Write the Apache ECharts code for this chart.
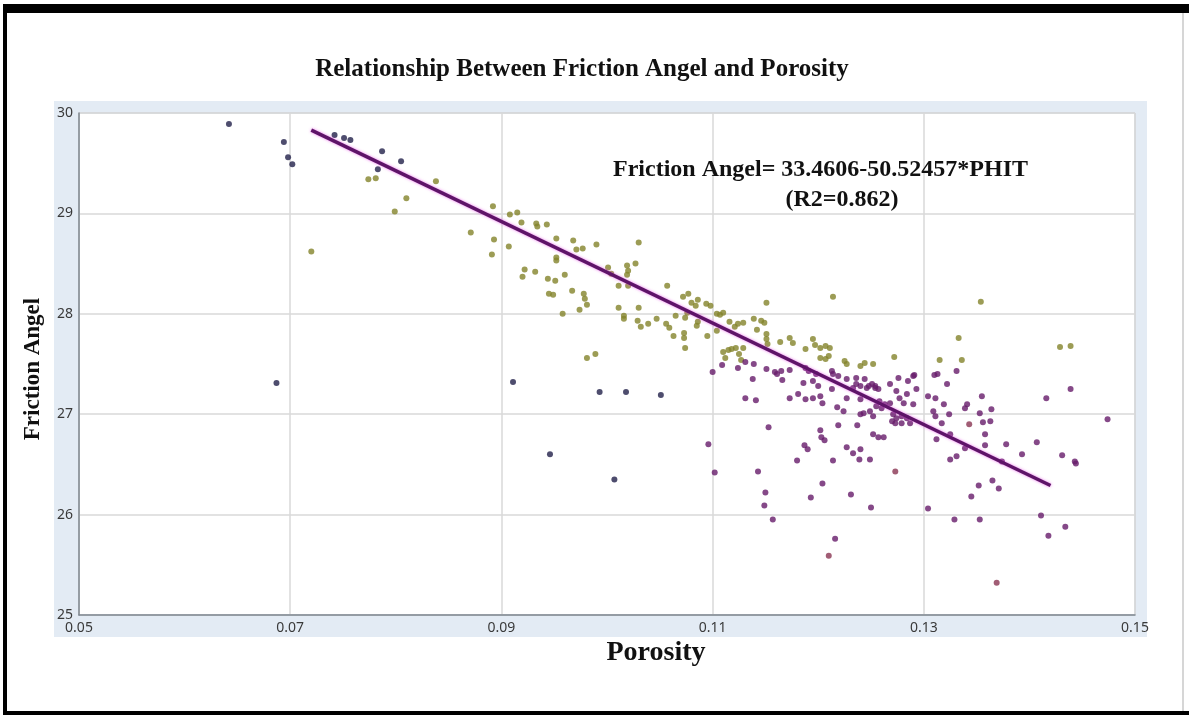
<!DOCTYPE html>
<html>
<head>
<meta charset="utf-8">
<script src="https://cdn.jsdelivr.net/npm/echarts@6/dist/echarts.min.js"></script>
<style>
html,body{margin:0;padding:0;background:#fff;}
#chart{width:1189px;height:715px;}
</style>
</head>
<body>
<div id="chart"></div>
<script>
// ---- data ----
const chartTitle = 'Relationship Between Friction Angel and Porosity';
const xTitle = 'Porosity';
const yTitle = 'Friction Angel';
const equationLine1 = 'Friction Angel= 33.4606-50.52457*PHIT';
const equationLine2 = '(R2=0.862)';

const xTicks = {min: 0.05, max: 0.15, step: 0.02};
const yTicks = {min: 25, max: 30, step: 1};

// regression line end points (porosity, friction angle)
const fitLine = [[0.072, 29.83], [0.142, 26.29]];

// dark navy points
const darkPoints = [
  [0.0642,29.89],[0.0694,29.71],[0.0698,29.56],[0.0702,29.49],[0.0742,29.78],[0.0751,29.75],
  [0.0757,29.73],[0.0787,29.62],[0.0783,29.44],[0.0805,29.52],
  [0.0687,27.31],[0.0911,27.32],[0.0946,26.60],[0.0993,27.22],[0.1018,27.22],[0.1051,27.19],[0.1007,26.35]
];

// olive points
const olivePoints = [
  [0.0774,29.34],[0.0781,29.35],[0.0810,29.15],[0.0799,29.02],[0.0838,29.32],[0.0720,28.62],
  [0.0892,29.07],[0.0908,28.99],[0.0915,29.01],[0.0919,28.91],[0.0933,28.90],[0.0934,28.87],[0.0943,28.89],
  [0.0871,28.81],[0.0893,28.74],[0.0891,28.59],[0.0907,28.67],[0.0952,28.75],[0.0968,28.73],[0.0971,28.64],
  [0.0977,28.65],[0.0990,28.69],[0.1030,28.71],
  [0.0922,28.44],[0.0920,28.37],[0.0932,28.42],[0.0944,28.35],[0.0951,28.33],[0.0952,28.56],[0.0952,28.53],
  [0.0960,28.39],[0.0945,28.20],[0.0949,28.19],[0.0967,28.23],[0.0978,28.20],[0.0979,28.15],[0.0981,28.09],
  [0.0974,28.04],[0.0958,28.00],
  [0.1001,28.46],[0.1004,28.40],[0.1019,28.48],[0.1020,28.43],[0.1019,28.39],[0.1027,28.50],[0.1011,28.28],
  [0.1020,28.28],[0.1011,28.06],[0.1016,27.98],[0.1016,27.95],[0.1030,28.06],[0.1029,27.93],[0.1032,27.87],
  [0.1039,27.90],[0.1047,27.95],[0.1057,28.28],[0.1056,27.90],[0.1059,27.86],[0.1063,27.78],[0.1073,27.81],
  [0.1073,27.76],[0.1074,27.66],[0.1065,27.98],
  [0.1072,28.17],[0.1077,28.20],[0.1080,28.11],[0.1086,28.14],[0.1084,28.08],[0.1076,28.01],[0.1074,27.96],
  [0.1086,27.92],[0.1085,27.88],[0.1094,28.10],[0.1098,28.08],[0.1095,27.78],[0.1104,28.00],[0.1107,27.99],
  [0.1110,28.01],[0.1104,27.83],[0.1110,27.62],[0.1115,27.64],[0.1112,27.56],[0.1116,27.92],[0.1121,27.87],
  [0.1124,27.90],[0.1129,27.91],[0.1122,27.66],[0.1129,27.66],[0.1125,27.60],[0.1118,27.65],[0.1139,27.95],
  [0.1146,27.93],[0.1142,27.84],[0.1149,27.91],[0.1151,28.11],[0.1151,27.80],[0.1151,27.75],[0.1152,27.70],
  [0.1164,27.72],[0.1173,27.76],[0.1176,27.71],[0.1195,27.75],[0.1197,27.69],[0.1188,27.65],
  [0.0981,27.56],[0.0989,27.60],[0.1127,27.54],
  [0.1214,28.17],[0.1354,28.12],[0.1202,27.66],[0.1207,27.68],[0.1211,27.66],[0.1202,27.56],[0.1207,27.55],
  [0.1210,27.58],[0.1225,27.53],[0.1227,27.50],[0.1240,27.48],[0.1244,27.51],[0.1252,27.50],[0.1272,27.57],
  [0.1315,27.54],[0.1333,27.76],[0.1336,27.54],[0.1429,27.67],[0.1439,27.68]
];

// purple points
const purplePoints = [
  [0.1100,27.42],[0.1109,27.49],[0.1124,27.46],[0.1139,27.50],[0.1138,27.35],[0.1151,27.45],[0.1159,27.42],
  [0.1165,27.43],[0.1166,27.34],[0.1173,27.44],[0.1188,27.46],[0.1191,27.43],[0.1186,27.31],[0.1195,27.33],
  [0.1131,27.16],[0.1141,27.14],[0.1173,27.16],[0.1181,27.20],[0.1188,27.15],[0.1195,27.16],[0.1153,26.87],
  [0.1096,26.70],[0.1102,26.42],[0.1143,26.43],[0.1150,26.22],[0.1149,26.09],[0.1157,25.95],[0.1180,26.54],
  [0.1187,26.69],[0.1190,26.65],[0.1193,26.17],
  [0.1202,26.84],[0.1203,26.77],[0.1206,26.74],[0.1214,26.54],[0.1219,26.89],[0.1237,26.89],[0.1227,26.67],
  [0.1233,26.61],[0.1240,26.65],[0.1239,26.55],[0.1249,26.55],[0.1252,26.80],[0.1257,26.77],[0.1262,26.77],
  [0.1204,26.31],[0.1231,26.20],[0.1250,26.07],[0.1216,25.76],[0.1273,26.91],[0.1279,26.91],[0.1287,26.91],
  [0.1161,27.40],[0.1200,27.28],[0.1213,27.43],[0.1219,27.38],[0.1227,27.35],[0.1236,27.36],[0.1244,27.35],
  [0.1248,27.28],[0.1254,27.28],[0.1257,27.25],
  [0.1202,27.18],[0.1204,27.11],[0.1213,27.25],[0.1218,27.07],[0.1224,27.03],[0.1227,27.16],[0.1233,27.26],
  [0.1236,27.30],[0.1240,27.15],[0.1246,27.26],[0.1251,27.30],[0.1254,27.26],
  [0.1240,27.00],[0.1243,27.01],[0.1249,27.03],[0.1252,26.98],[0.1255,27.08],[0.1258,27.13],[0.1260,27.06],
  [0.1263,27.10],[0.1268,27.11],[0.1271,27.00],[0.1274,26.96],[0.1279,26.98],[0.1284,26.96],[0.1281,27.11],
  [0.1290,27.38],[0.1285,27.33],[0.1293,27.25],[0.1304,27.18],[0.1311,27.16],[0.1313,27.40],[0.1322,27.30],
  [0.1331,27.43],
  [0.1309,27.03],[0.1311,26.98],[0.1317,26.91],[0.1324,27.00],[0.1325,26.80],[0.1312,26.75],[0.1339,27.06],
  [0.1341,27.10],[0.1353,27.01],[0.1355,27.18],[0.1364,27.05],[0.1363,26.93],[0.1356,26.92],[0.1358,26.80],
  [0.1358,26.69],
  [0.1325,26.55],[0.1331,26.58],[0.1378,26.70],[0.1393,26.60],[0.1407,26.72],[0.1416,27.16],[0.1439,27.25],
  [0.1431,26.59],[0.1443,26.53],[0.1474,26.95],
  [0.1304,26.06],[0.1329,25.95],[0.1353,25.95],[0.1352,26.29],[0.1365,26.34],[0.1371,26.26],[0.1345,26.18],
  [0.1411,25.99],[0.1434,25.88],[0.1418,25.79],
  [0.1291,27.39],[0.1310,27.39],[0.1319,27.10],[0.1339,26.66],[0.1374,26.53],[0.1444,26.51],
  [0.1131,27.52],[0.1198,27.40],[0.1214,27.40],[0.1240,27.28],[0.1268,27.30],[0.1274,27.23],[0.1277,27.16],
  [0.1284,27.20],[0.1290,27.10],[0.1276,27.36],[0.1270,26.93]
];

// reddish points
const redPoints = [[0.1369,25.32],[0.1273,26.43],[0.1343,26.90],[0.1210,25.59]];

// ---- chart ----
const serif = '"Liberation Serif","Times New Roman",serif';
const sans = '"Noto Sans","Open Sans",sans-serif';
const chart = echarts.init(document.getElementById('chart'), null, {renderer: 'canvas'});

function scatter(name, data, color) {
  return {
    name: name, type: 'scatter', data: data, symbolSize: 6,
    itemStyle: {color: color}, z: 3
  };
}

chart.setOption({
  animation: false,
  backgroundColor: '#ffffff',
  title: {
    text: chartTitle, left: 577, top: 52, textAlign: 'center',
    textStyle: {fontFamily: serif, fontWeight: 'bold', fontSize: 25, color: '#111'}
  },
  grid: {
    left: 79, top: 113, width: 1056, height: 502,
    show: true, backgroundColor: '#ffffff', borderColor: '#b9c3ce', borderWidth: 1
  },
  xAxis: {
    type: 'value', min: xTicks.min, max: xTicks.max, interval: xTicks.step,
    axisLine: {show: true, lineStyle: {color: '#7f8891', width: 1.5}},
    axisTick: {show: false},
    axisLabel: {
      margin: 6, color: '#3a3a3a', fontFamily: sans, fontSize: 14,
      formatter: v => v.toFixed(2)
    },
    splitLine: {show: true, lineStyle: {color: '#d9d9d9', width: 1.5}}
  },
  yAxis: {
    type: 'value', min: yTicks.min, max: yTicks.max, interval: yTicks.step,
    axisLine: {show: true, lineStyle: {color: '#7f8891', width: 1.5}},
    axisTick: {show: false},
    axisLabel: {margin: 6, color: '#3a3a3a', fontFamily: sans, fontSize: 14},
    splitLine: {show: true, lineStyle: {color: '#d9d9d9', width: 1.5}}
  },
  graphic: [
    {type: 'rect', z: -10, shape: {x: 54, y: 101, width: 1093, height: 536},
     style: {fill: '#e3ebf4'}},
    {type: 'rect', z: 10, shape: {x: 3, y: 4, width: 1186, height: 9}, style: {fill: '#000'}},
    {type: 'rect', z: 10, shape: {x: 3, y: 4, width: 4, height: 711}, style: {fill: '#000'}},
    {type: 'rect', z: 10, shape: {x: 3, y: 711, width: 1186, height: 4}, style: {fill: '#000'}},
    {type: 'rect', z: 10, shape: {x: 1182, y: 13, width: 2, height: 698}, style: {fill: '#d6d6d6'}},
    {type: 'text', z: 20, x: 613, y: 170,
     style: {text: equationLine1, font: 'bold 24px ' + serif, fill: '#111',
             textAlign: 'left', textVerticalAlign: 'middle'}},
    {type: 'text', z: 20, x: 842, y: 200,
     style: {text: equationLine2, font: 'bold 24px ' + serif, fill: '#111',
             textAlign: 'center', textVerticalAlign: 'middle'}},
    {type: 'text', z: 20, x: 33, y: 369, rotation: Math.PI / 2,
     style: {text: yTitle, font: 'bold 23px ' + serif, fill: '#111',
             textAlign: 'center', textVerticalAlign: 'middle'}},
    {type: 'text', z: 20, x: 656, y: 653,
     style: {text: xTitle, font: 'bold 28px ' + serif, fill: '#111',
             textAlign: 'center', textVerticalAlign: 'middle'}}
  ],
  series: [
    scatter('dark', darkPoints, '#22214a'),
    scatter('olive', olivePoints, '#83832a'),
    scatter('purple', purplePoints, '#661c6a'),
    scatter('red', redPoints, '#8a3452'),
    {
      name: 'fit', type: 'line', data: fitLine, symbol: 'none', z: 4,
      lineStyle: {color: '#5e1468', width: 3.5, shadowColor: 'rgba(230,60,230,0.7)', shadowBlur: 3}
    }
  ]
});
</script>
</body>
</html>
